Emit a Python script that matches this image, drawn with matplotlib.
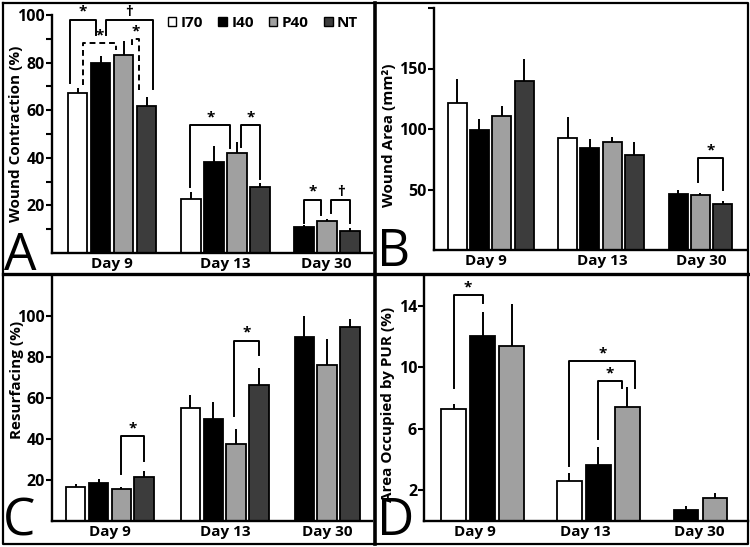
import numpy as np
import matplotlib
matplotlib.use('Agg')
import matplotlib.pyplot as plt
from matplotlib.lines import Line2D
from matplotlib.patches import Patch

plt.rcParams['font.family'] = ['Open Sans', 'DejaVu Sans']
plt.rcParams['font.weight'] = 'bold'

nan = np.nan
days = ['Day 9', 'Day 13', 'Day 30']
groups = ['I70', 'I40', 'P40', 'NT']
colors = ['white', 'black', '#a0a0a0', '#3c3c3c']

# rows = days, columns = I70, I40, P40, NT
contraction = [[67.1, 79.7, 83.2, 61.8], [22.6, 38.4, 41.9, 27.7], [nan, 11.1, 13.6, 9.2]]
contraction_err = [[2.4, 3.1, 6.0, 3.9], [3.2, 6.6, 4.9, 1.8], [nan, 0.7, 0.8, 1.2]]

area = [[121.5, 99.4, 110.5, 139.7], [92.3, 84.0, 89.0, 78.8], [nan, 46.0, 45.5, 38.3]]
area_err = [[20.1, 9.1, 8.8, 18.4], [17.6, 8.0, 4.1, 10.7], [nan, 3.9, 1.6, 2.5]]

resurfacing = [[16.5, 18.3, 15.4, 21.6], [55.1, 49.8, 37.8, 66.5], [nan, 90.0, 76.2, 94.4]]
resurfacing_err = [[1.7, 2.3, 1.1, 2.9], [6.5, 8.1, 7.1, 8.1], [nan, 10.1, 12.5, 4.1]]

pur = [[7.3, 12.05, 11.35, nan], [2.58, 3.62, 7.4, nan], [nan, 0.72, 1.52, nan]]
pur_err = [[0.34, 1.52, 2.75, nan], [0.52, 1.21, 1.3, nan], [nan, 0.26, 0.33, nan]]

# significance brackets: (day, left group, left shift, right group, right shift,
#                         top, left leg end, right leg end, mark, dashed)
contraction_sig = [
    (0, 0, -0.33, 1, -0.2, 98.0, 71.5, 91.5, '*', False),
    (0, 1, 0.22, 3, 0.27, 98.0, 91.5, 68.9, '†', False),
    (0, 0, 0.25, 2, -0.33, 88.2, 70.7, 85.4, '*', True),
    (0, 2, 0.36, 3, -0.31, 89.9, 87.5, 68.6, '*', True),
    (1, 0, -0.03, 2, -0.3, 53.8, 27.9, 44.0, '*', False),
    (1, 2, 0.18, 3, 0.0, 53.8, 44.7, 31.0, '*', False),
    (2, 1, 0.0, 2, -0.26, 22.3, 12.5, 16.0, '*', False),
    (2, 2, 0.17, 3, 0.0, 22.3, 16.7, 12.7, '†', False),
]
area_sig = [(2, 2, -0.1, 3, 0.0, 76.0, 55.9, 49.9, '*', False)]
resurfacing_sig = [
    (0, 2, 0.0, 3, 0.0, 41.4, 22.7, 29.2, '*', False),
    (1, 2, -0.1, 3, 0.0, 87.9, 51.1, 81.1, '*', False),
]
pur_sig = [
    (0, 0, 0.0, 1, 0.0, 14.7, 8.66, 14.2, '*', False),
    (1, 0, 0.0, 2, 0.26, 10.39, 3.58, 8.66, '*', False),
    (1, 1, 0.0, 2, -0.2, 9.09, 5.31, 8.66, '*', False),
]

W, H = 750, 547
fig = plt.figure(figsize=(7.5, 5.47), dpi=100)


def px_axes(left, top, right, bottom):
    return fig.add_axes([left / W, 1 - bottom / H, (right - left) / W, (bottom - top) / H])


def panel(ax, means, errs, sig, centers, label_pos, xlim, ylim, yticks, yticklabels,
          width, minor=None):
    pos = {}
    for d, c in enumerate(centers):
        present = [g for g in range(4) if not np.isnan(means[d][g])]
        n = len(present)
        for i, g in enumerate(present):
            x = c + i - (n - 1) / 2
            pos[(d, g)] = x
            ax.bar(x, means[d][g], width, color=colors[g], edgecolor='black', linewidth=1.3,
                   zorder=2)
            ax.errorbar(x, means[d][g], yerr=[[0], [errs[d][g]]], fmt='none', ecolor='black',
                        elinewidth=1.4, capsize=0, zorder=1)
    span = ylim[1] - ylim[0]
    for d, gl, sl, gr, sr, top, yl, yr, mark, dashed in sig:
        xl = pos[(d, gl)] + sl
        xr = pos[(d, gr)] + sr
        ls = (0, (3, 2)) if dashed else '-'
        ax.plot([xl, xl, xr, xr], [yl, top, top, yr], color='black', lw=1.4, ls=ls,
                clip_on=False, zorder=3)
        ax.text((xl + xr) / 2, top + span * 0.004, mark, ha='center', va='bottom',
                fontsize=11, fontweight='bold', clip_on=False)
    ax.set_xlim(*xlim)
    ax.set_ylim(*ylim)
    ax.set_xticks(label_pos)
    ax.set_xticklabels(days, fontsize=11, fontweight='bold')
    ax.tick_params(axis='x', length=0, pad=3)
    ax.set_yticks(yticks)
    ax.set_yticklabels(yticklabels, fontsize=11.5, fontweight='bold')
    ax.tick_params(axis='y', length=4, width=1.5, pad=1, direction='out')
    if minor is not None:
        ax.set_yticks(minor, minor=True)
        ax.tick_params(axis='y', which='minor', length=4, width=1.5)
    for s in ['top', 'right']:
        ax.spines[s].set_visible(False)
    for s in ['left', 'bottom']:
        ax.spines[s].set_linewidth(1.7)
    ax.set_facecolor('none')


axA = px_axes(52, 15, 372, 253)
panel(axA, contraction, contraction_err, contraction_sig, [0, 4.93, 9.35], [0, 4.93, 9.3],
      (-2.61, 11.3), (0, 100), [20, 40, 60, 80, 100], ['20', '40', '60', '80', '100'], 0.85,
      minor=[10, 30, 50, 70, 90])
handles = [Patch(facecolor=c, edgecolor='black', linewidth=1.0) for c in colors]
axA.legend(handles, groups, loc='upper right', bbox_to_anchor=(1.0, 1.055), ncol=4,
           frameon=False, handlelength=0.55, handleheight=0.55, handletextpad=0.3,
           columnspacing=1.0, prop={'size': 11, 'weight': 'bold'})

axB = px_axes(434, 8, 747, 250)
panel(axB, area, area_err, area_sig, [0, 4.95, 9.41], [-0.23, 4.99, 9.45],
      (-2.54, 11.5), (0, 200), [50, 100, 150, 200], ['50', '100', '150', ''], 0.85)

axC = px_axes(52, 275, 372, 521)
panel(axC, resurfacing, resurfacing_err, resurfacing_sig, [0, 5.03, 9.52], [0, 5.07, 9.52],
      (-2.54, 11.49), (0, 120), [20, 40, 60, 80, 100], ['20', '40', '60', '80', '100'], 0.85)

axD = px_axes(424, 275, 748, 521)
panel(axD, pur, pur_err, pur_sig, [0, 4.0, 7.52], [-0.26, 3.53, 7.47],
      (-2.02, 9.16), (0, 16), [2, 6, 10, 14], ['2', '6', '10', '14'], 0.86)

# y axis titles
ylabels = [('Wound Contraction (%)', 16, 134), ('Wound Area (mm²)', 389, 135),
           ('Resurfacing (%)', 17, 380), ('Area Occupied by PUR (%)', 388, 404)]
for txt, x, y in ylabels:
    fig.text(x / W, 1 - y / H, txt, rotation=90, ha='center', va='center',
             fontsize=11, fontweight='bold')

# panel letters
for letter, x, y in [('A', 4, 270), ('B', 377, 266), ('C', 3, 535), ('D', 377, 535)]:
    fig.text(x / W, 1 - y / H, letter, ha='left', va='baseline', fontsize=37,
             fontweight='normal')

# panel frame
frame = dict(color='black', transform=fig.transFigure, clip_on=False)
fig.add_artist(Line2D([2.5 / W, 747.5 / W, 747.5 / W, 2.5 / W, 2.5 / W],
                      [1 - 3 / H, 1 - 3 / H, 1 - 544 / H, 1 - 544 / H, 1 - 3 / H], lw=1.6, **frame))
fig.add_artist(Line2D([375 / W, 375 / W], [1 - 3 / H, 1 - 544 / H], lw=2.6, **frame))
fig.add_artist(Line2D([2.5 / W, 747.5 / W], [1 - 273.5 / H, 1 - 273.5 / H], lw=2.4, **frame))

fig.savefig('out.png', dpi=100, facecolor='white')
